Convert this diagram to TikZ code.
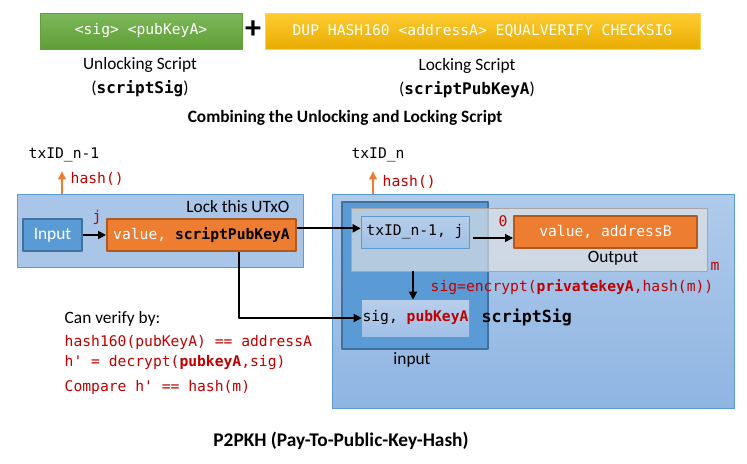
\documentclass[tikz,border=0pt]{standalone}
\usepackage{fontspec}
\setmainfont{Carlito}
\setmonofont{DejaVu Sans Mono}
\usetikzlibrary{arrows.meta,positioning}
\definecolor{keyred}{HTML}{C00000}
\definecolor{txblue}{HTML}{5B9BD5}
\definecolor{txblueline}{HTML}{41719C}
\definecolor{txorange}{HTML}{ED7D31}
\definecolor{txorangeline}{HTML}{AE5A21}
\definecolor{paleblue}{HTML}{A9C6E8}
\definecolor{greentop}{HTML}{7DB85A}
\definecolor{greenbot}{HTML}{5E9E36}
\definecolor{greenline}{HTML}{62A03A}
\definecolor{goldtop}{HTML}{FFCC33}
\definecolor{goldbot}{HTML}{E8AC00}
\definecolor{goldline}{HTML}{FFD250}
\definecolor{txtop}{HTML}{B0CBEA}
\definecolor{txbot}{HTML}{8FB5E3}
\definecolor{outgrey}{HTML}{E4E4E4}
\definecolor{outline}{HTML}{A6A6A6}
\definecolor{celltop}{HTML}{B8CEEA}
\definecolor{cellbot}{HTML}{A0C0E7}
\begin{document}
\begin{tikzpicture}[x=0.75pt,y=-0.75pt,font=\fontsize{13}{15}\selectfont,line join=round,
	>={Triangle[length=6pt,width=6pt]},
	mono/.style={font=\fontsize{11}{13}\selectfont\ttfamily},
	keytext/.style={mono,text=keyred},
	box/.style={inner sep=0pt,minimum height=24pt},
	utxo/.style={box,draw=txorangeline,line width=1.5pt,fill=txorange,text=white,mono},
	cell/.style={box,top color=celltop,bottom color=cellbot,mono},
	hasharrow/.style={->,draw=txorange,line width=0.8pt,shorten >=3.5pt},
	link/.style={->,line width=1.3pt}]
	\useasboundingbox (0,0) rectangle (747,464);
	% scripts on top
	\node[box,minimum width=151.5pt,minimum height=27pt,top color=greentop,bottom color=greenbot,draw=greenline,text=white,mono] (unlock) at (141,31) {<sig> <pubKeyA>};
	\node[box,minimum width=326.25pt,minimum height=27pt,top color=goldtop,bottom color=goldbot,draw=goldline,text=white,mono] (lock) at (482.5,31) {DUP HASH160 <addressA> EQUALVERIFY CHECKSIG};
	\node[font=\fontsize{24}{24}\selectfont\bfseries] (plus) at (253,30) {+};
	\path
	(140,65) node (unlocklbl) {Unlocking Script}
	(140,89) node (unlockname) {(\textbf{\texttt{\fontsize{12}{14}\selectfont scriptSig}})}
	(467,66) node (locklbl) {Locking Script}
	(467,90) node (lockname) {(\textbf{\texttt{\fontsize{12}{14}\selectfont scriptPubKeyA}})}
	(345,118) node[font=\fontsize{13}{15}\selectfont\bfseries] (combine) {Combining the Unlocking and Locking Script};

	% previous transaction
	\node[draw=txblue,fill=paleblue,minimum width=214.5pt,minimum height=54.75pt,inner sep=0pt] (lockbox) at (160,230.5) {};
	\node[box,minimum width=44.25pt,draw=txblueline,line width=1.5pt,fill=txblue,text=white] (inbox) at (52.5,235) {Input};
	\node[utxo,minimum width=141.75pt] (val) at (201.5,235) {value, \textcolor{black}{\textbf{scriptPubKeyA}}};
	\node[anchor=east] (locktxt) at (294,207) {Lock this UTxO};
	\node[keytext] (jidx) at (97,217) {j};
	\node[mono] (txprev) at (64,155) {txID\_n-1};
	\node[keytext,anchor=west] (hashprev) at (66,179) {hash()};
	\draw[hasharrow] (lockbox.north -| 62,0) -- (txprev.south -| 62,0);
	\draw[link] (inbox) -- (val);

	% spending transaction
	\node[draw=txblue,top color=txtop,bottom color=txbot,minimum width=301.5pt,minimum height=160.5pt,inner sep=0pt] (txbox) at (533,301) {};
	\node[draw=txblueline,line width=1.5pt,fill=txblue,minimum width=109.5pt,minimum height=110.25pt,inner sep=0pt] (inputbox) at (415,275.5) {};
	\node[draw=outline,fill=outgrey,fill opacity=0.65,minimum width=267pt,minimum height=47.25pt,inner sep=0pt] (outbox) at (529,239.5) {};
	\node[cell,minimum width=81pt,draw=txblue] (prevbox) at (415,232) {txID\_n-1, j};
	\node[utxo,minimum width=137.25pt] (outval) at (605.5,232) {value, addressB};
	\node[cell,minimum width=80.25pt,minimum height=27pt] (sigbox) at (415.5,318) {sig, \textcolor{keyred}{\textbf{pubKeyA}}};
	\path
	(378,155) node[mono] (txnow) {txID\_n}
	(378,182) node[keytext,anchor=west] (hashnow) {hash()}
	(503,221) node[keytext] (outidx) {0}
	(613,258) node (outlbl) {Output}
	(715,266) node[keytext] (msg) {m}
	(426,287) node[keytext,anchor=west] (encrypt) {sig=encrypt(\textbf{privatekeyA},hash(m))}
	(477,317) node[anchor=west,font=\fontsize{12.5}{14}\selectfont\ttfamily\bfseries] (signame) {scriptSig}
	(412,360) node (inputlbl) {input};
	\draw[hasharrow] (txbox.north -| 373,0) -- (txnow.south -| 373,0);
	\draw[->,line width=0.8pt,shorten <=3pt] ([yshift=-4.5pt]prevbox.east) -- ([yshift=-4.5pt]prevbox.east -| outval.west);
	\draw[link] (outbox.south -| 413,0) -- (sigbox.north -| 413,0);
	\draw[link] ([yshift=5pt]val.east) -- ([yshift=5pt]val.east -| prevbox.west);
	\draw[link] ([xshift=28pt]val.south) |- (sigbox.west);

	% verification
	\path
	(60,319) node[anchor=west] (verify) {Can verify by:}
	(60,342) node[keytext,anchor=west] (check1) {hash160(pubKeyA) == addressA}
	(60,363) node[keytext,anchor=west] (check2) {h' = decrypt(\textbf{pubkeyA},sig)}
	(60,387) node[keytext,anchor=west] (check3) {Compare h' == hash(m)}
	(341,441) node[font=\fontsize{14.5}{16}\selectfont\bfseries] (title) {P2PKH (Pay-To-Public-Key-Hash)};
\end{tikzpicture}
\end{document}
